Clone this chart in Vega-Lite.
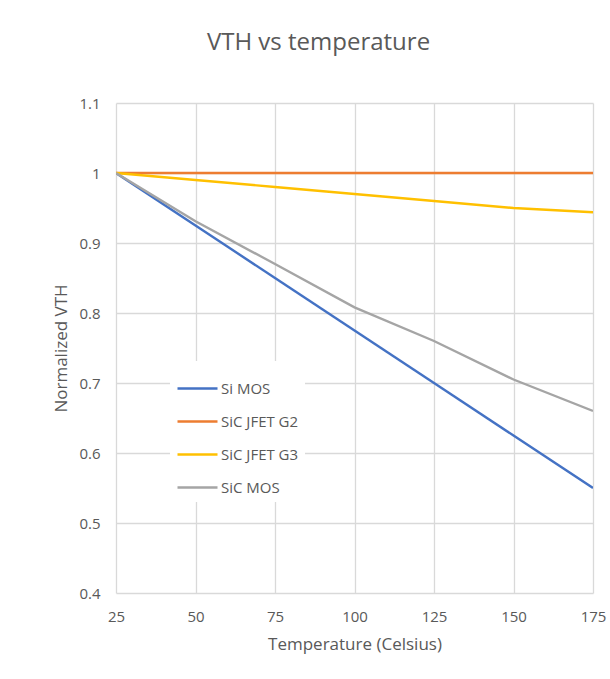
{
  "$schema": "https://vega.github.io/schema/vega-lite/v6.json",
  "width": 477,
  "height": 490,
  "autosize": {"type": "none"},
  "padding": {"left": 116, "top": 103, "right": 17, "bottom": 86},
  "background": "white",
  "title": {
    "text": "VTH vs temperature",
    "font": "Open Sans",
    "fontSize": 24,
    "fontWeight": "normal",
    "color": "#595959",
    "anchor": "middle",
    "dx": -36,
    "offset": 41
  },
  "data": {
    "values": [
      {"temp": 25, "device": "Si MOS", "vth": 1.0},
      {"temp": 50, "device": "Si MOS", "vth": 0.925},
      {"temp": 75, "device": "Si MOS", "vth": 0.85},
      {"temp": 100, "device": "Si MOS", "vth": 0.775},
      {"temp": 125, "device": "Si MOS", "vth": 0.7},
      {"temp": 150, "device": "Si MOS", "vth": 0.625},
      {"temp": 175, "device": "Si MOS", "vth": 0.55},
      {"temp": 25, "device": "SiC JFET G2", "vth": 1.0},
      {"temp": 50, "device": "SiC JFET G2", "vth": 1.0},
      {"temp": 75, "device": "SiC JFET G2", "vth": 1.0},
      {"temp": 100, "device": "SiC JFET G2", "vth": 1.0},
      {"temp": 125, "device": "SiC JFET G2", "vth": 1.0},
      {"temp": 150, "device": "SiC JFET G2", "vth": 1.0},
      {"temp": 175, "device": "SiC JFET G2", "vth": 1.0},
      {"temp": 25, "device": "SiC JFET G3", "vth": 1.0},
      {"temp": 50, "device": "SiC JFET G3", "vth": 0.99},
      {"temp": 75, "device": "SiC JFET G3", "vth": 0.98},
      {"temp": 100, "device": "SiC JFET G3", "vth": 0.97},
      {"temp": 125, "device": "SiC JFET G3", "vth": 0.96},
      {"temp": 150, "device": "SiC JFET G3", "vth": 0.95},
      {"temp": 175, "device": "SiC JFET G3", "vth": 0.944},
      {"temp": 25, "device": "SiC MOS", "vth": 1.0},
      {"temp": 50, "device": "SiC MOS", "vth": 0.931},
      {"temp": 75, "device": "SiC MOS", "vth": 0.87},
      {"temp": 100, "device": "SiC MOS", "vth": 0.808},
      {"temp": 125, "device": "SiC MOS", "vth": 0.76},
      {"temp": 150, "device": "SiC MOS", "vth": 0.705},
      {"temp": 175, "device": "SiC MOS", "vth": 0.66}
    ]
  },
  "mark": {"type": "line", "strokeWidth": 2.4, "clip": true},
  "encoding": {
    "x": {
      "field": "temp",
      "type": "quantitative",
      "scale": {"domain": [25, 175], "nice": false, "zero": false},
      "axis": {
        "title": "Temperature (Celsius)",
        "values": [25, 50, 75, 100, 125, 150, 175],
        "labelFlush": false,
        "labelPadding": 16,
        "titlePadding": 12
      }
    },
    "y": {
      "field": "vth",
      "type": "quantitative",
      "scale": {"domain": [0.4, 1.1], "nice": false, "zero": false},
      "axis": {
        "title": "Normalized VTH",
        "values": [0.4, 0.5, 0.6, 0.7, 0.8, 0.9, 1.0, 1.1],
        "format": ".1~f",
        "labelFlush": false,
        "labelPadding": 16,
        "titlePadding": 8
      }
    },
    "color": {
      "field": "device",
      "type": "nominal",
      "scale": {
        "domain": ["Si MOS", "SiC JFET G2", "SiC JFET G3", "SiC MOS"],
        "range": ["#4472C4", "#ED7D31", "#FFC000", "#A5A5A5"]
      },
      "legend": {
        "title": null,
        "orient": "none",
        "legendX": 54,
        "legendY": 258,
        "fillColor": "white",
        "padding": 6,
        "symbolType": "stroke",
        "symbolSize": 1600,
        "symbolStrokeWidth": 2.4,
        "labelFont": "Open Sans",
        "labelFontSize": 15,
        "labelColor": "#595959",
        "labelOffset": 2,
        "rowPadding": 3
      }
    }
  },
  "config": {
    "view": {"stroke": null},
    "axis": {
      "domain": false,
      "ticks": false,
      "grid": true,
      "gridColor": "#D9D9D9",
      "gridWidth": 1.3,
      "labelFont": "Open Sans",
      "labelFontSize": 15,
      "labelColor": "#595959",
      "titleFont": "Open Sans",
      "titleFontSize": 17,
      "titleFontWeight": "normal",
      "titleColor": "#595959"
    }
  }
}
